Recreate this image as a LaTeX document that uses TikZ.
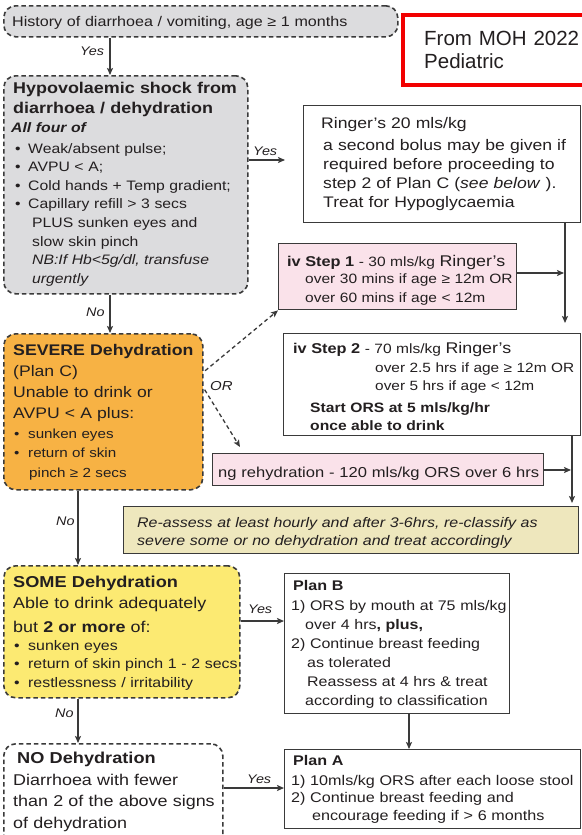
\documentclass[tikz,border=0pt]{standalone}
\usepackage{fontspec}
\setmainfont{Liberation Sans}[FakeStretch=1.15]
\newfontfamily\notefont{Liberation Sans}
\usetikzlibrary{arrows.meta}
\definecolor{ink}{HTML}{231F20}
\definecolor{edge}{HTML}{3A3A3A}
\definecolor{grayfill}{HTML}{DCDCDE}
\definecolor{orangefill}{HTML}{F7B244}
\definecolor{yellowfill}{HTML}{FCEA72}
\definecolor{pinkfill}{HTML}{FAE2EA}
\definecolor{khakifill}{HTML}{EEE7BD}
\definecolor{notered}{HTML}{F20000}
\newcommand{\fsz}[2]{\fontsize{#1}{#2}\selectfont}
\newcommand{\bul}{\makebox[13pt][l]{•}}
\newcommand{\bull}{\makebox[14pt][l]{•}}
\begin{document}
\begin{tikzpicture}[x=1pt,y=-1pt,
  box/.style={rectangle, inner sep=0pt, anchor=north west, line width=1.4pt, draw=edge},
  dbox/.style={box, rounded corners=12pt, dash pattern=on 4.5pt off 3pt, line width=1.6pt},
  txt/.style={inner sep=0pt, anchor=base west, align=left, text width=#1, text=ink},
  txt/.default=440pt,
  lbl/.style={inner sep=0pt, anchor=base west, text=ink, font=\fsz{12.5}{15}\itshape},
  arr/.style={draw=edge, line width=1.3pt, -{Stealth[length=7pt,width=6pt,inset=1.5pt]}},
  darr/.style={arr, dash pattern=on 4pt off 3pt}
]
\useasboundingbox (0,0) rectangle (581,835);
\fill[white] (0,0) rectangle (581,835);

% ---------- boxes ----------
\node[dbox, fill=grayfill, minimum width=394pt, minimum height=31pt] (hist) at (3,5) {};
\node[rectangle, draw=notered, line width=4pt, anchor=north west, minimum width=200pt, minimum height=70pt, inner sep=0pt] (note) at (401,13) {};
\node[dbox, fill=grayfill, minimum width=244pt, minimum height=218pt] (hypo) at (3,75) {};
\node[box, fill=white, minimum width=277pt, minimum height=117pt] (ringer) at (303,105) {};
\node[box, fill=pinkfill, minimum width=238pt, minimum height=66pt] (step1) at (278,243) {};
\node[dbox, fill=orangefill, minimum width=199pt, minimum height=156pt] (severe) at (3,333) {};
\node[box, fill=white, minimum width=297pt, minimum height=102pt] (step2) at (283,333) {};
\node[box, fill=pinkfill, minimum width=331pt, minimum height=32pt] (ng) at (212,453) {};
\node[box, fill=khakifill, minimum width=455pt, minimum height=47pt] (reass) at (123,506) {};
\node[dbox, fill=yellowfill, minimum width=236pt, minimum height=132pt] (some) at (3,565) {};
\node[box, fill=white, minimum width=225pt, minimum height=140pt] (planB) at (284,573) {};
\node[dbox, fill=white, minimum width=219pt, minimum height=110pt] (nodeh) at (3,743) {};
\node[box, fill=white, minimum width=296pt, minimum height=79pt] (planA) at (284,749) {};

% ---------- helper coordinates ----------
\coordinate (xA) at (110,0);
\coordinate (xB) at (78,0);
\coordinate (xC) at (565,0);
\coordinate (xD) at (572,0);
\coordinate (xE) at (409,0);
\coordinate (yHypo) at (0,160);
\coordinate (ySome) at (0,621);
\coordinate (yNo) at (0,788);
\coordinate (yS1) at (0,273);
\coordinate (yNg) at (0,470);
\coordinate (yesEnd) at (285,160);
\coordinate (orA) at (0,372);
\coordinate (orB) at (0,388);
\coordinate (orEndB) at (240,447);

% ---------- connectors ----------
\draw[arr] (hist.south -| xA) -- (hypo.north -| xA);
\draw[arr] (hypo.east |- yHypo) -- (yesEnd);
\draw[arr, shorten >=10pt] (ringer.south -| xC) -- (step2.north -| xC);
\draw[arr, shorten >=1pt] (step1.east |- yS1) -- (xC |- yS1);
\draw[arr] (hypo.south -| xA) -- (severe.north -| xA);
\draw[darr, shorten <=2pt] (severe.east |- orA) -- (step1.south west);
\draw[darr, shorten <=2pt] (severe.east |- orB) -- (orEndB);
\draw[arr, shorten >=3pt] (step2.south -| xD) -- (reass.north -| xD);
\draw[arr, shorten >=1pt] (ng.east |- yNg) -- (xD |- yNg);
\draw[arr] (severe.south -| xB) -- (some.north -| xB);
\draw[arr] (some.east |- ySome) -- (planB.west |- ySome);
\draw[arr] (some.south -| xB) -- (nodeh.north -| xB);
\draw[arr] (nodeh.east |- yNo) -- (planA.west |- yNo);
\draw[arr] (planB.south -| xE) -- (planA.north -| xE);

% ---------- labels ----------
\node[lbl] (yes1) at (80,55) {Yes};
\node[lbl] (yes2) at (253,155) {Yes};
\node[lbl] (no1) at (86,316) {No};
\node[lbl, font=\fsz{13}{15}\itshape] (orL) at (210,390) {OR};
\node[lbl] (no2) at (56,525) {No};
\node[lbl] (yes3) at (248,613) {Yes};
\node[lbl] (no3) at (55,717) {No};
\node[lbl] (yes4) at (247,783) {Yes};

% ---------- texts ----------
\node[txt, font=\fsz{14}{16}] (histT) at (12,26) {History of diarrhoea / vomiting, age ≥ 1 months};
\node[txt=200pt, font=\notefont\fsz{20.5}{23}] (noteT) at (424,45) {From MOH 2022\\Pediatric};

\node[txt, font=\fsz{15.6}{20}\bfseries] (hypoT) at (13,93) {Hypovolaemic shock from\\diarrhoea / dehydration};
\node[txt, font=\fsz{13.7}{18.6}] (hypoB) at (11,132) {\textbf{\textit{All four of}}\\[2.5pt]
\hspace*{4pt}\bul Weak/absent pulse;\\
\hspace*{4pt}\bul AVPU < A;\\
\hspace*{4pt}\bul Cold hands + Temp gradient;\\
\hspace*{4pt}\bul Capillary refill > 3 secs\\
\hspace*{21pt}PLUS sunken eyes and\\
\hspace*{21pt}slow skin pinch\\
\hspace*{21pt}\textit{NB:If Hb<5g/dl, transfuse}\\
\hspace*{21pt}\textit{urgently}};

\node[txt, font=\fsz{15.3}{19}] (ringT) at (321,128) {Ringer's 20 mls/kg};
\node[txt, font=\fsz{15.3}{19}] (ringB) at (323,150) {a second bolus may be given if\\required before proceeding to\\step 2 of Plan C (\textit{see below} ).\\Treat for Hypoglycaemia};

\node[txt, font=\fsz{13.5}{18.5}] (s1a) at (287,266) {{\fsz{14.2}{18.5}\bfseries iv Step 1} - 30 mls/kg {\fsz{15.5}{18.5}Ringer's}};
\node[txt, font=\fsz{13.5}{18.5}] (s1b) at (305,283.5) {over 30 mins if age ≥ 12m OR\\over 60 mins if age < 12m};

\node[txt, font=\fsz{15.4}{20}\bfseries] (sevT) at (13,355) {SEVERE Dehydration};
\node[txt, font=\fsz{15.3}{21}] (sevB) at (13,376) {(Plan C)\\Unable to drink or\\AVPU < A plus:};
\node[txt, font=\fsz{13.2}{19.5}] (sevL) at (14,438) {\bull sunken eyes\\\bull return of skin\\\hspace*{15pt}pinch ≥ 2 secs};

\node[txt, font=\fsz{13.5}{18.5}] (s2a) at (293,353) {{\fsz{14.2}{18.5}\bfseries iv Step 2} - 70 mls/kg {\fsz{15.5}{18.5}Ringer's}};
\node[txt, font=\fsz{13.4}{18.3}] (s2b) at (375,372) {over 2.5 hrs if age ≥ 12m OR\\over 5 hrs if age < 12m};
\node[txt, font=\fsz{13.6}{18.5}\bfseries] (s2c) at (310,412) {Start ORS at 5 mls/kg/hr\\once able to drink};

\node[txt, font=\fsz{14.4}{17}] (ngT) at (218,477) {ng rehydration - 120 mls/kg ORS over 6 hrs};

\node[txt, font=\fsz{13.9}{18}\itshape] (reassT) at (137,527) {Re-assess at least hourly and after 3-6hrs, re-classify as\\severe some or no dehydration and treat accordingly};

\node[txt, font=\fsz{15.8}{20}\bfseries] (someT) at (13,587) {SOME Dehydration};
\node[txt, font=\fsz{15.6}{23.5}] (someB) at (13,608.5) {Able to drink adequately\\but \textbf{2 or more} of:};
\node[txt, font=\fsz{13.85}{18.5}] (someL) at (14,650) {\bull sunken eyes\\\bull return of skin pinch 1 - 2 secs\\\bull restlessness / irritability};

\node[txt, font=\fsz{14}{18}\bfseries] (pbT) at (293,590) {Plan B};
\node[txt, font=\fsz{13.9}{19}] (pbB) at (291,610) {1) ORS by mouth at 75 mls/kg\\\hspace*{14pt}over 4 hrs\textbf{, plus,}\\2) Continue breast feeding\\\hspace*{16pt}as tolerated\\\hspace*{16pt}Reassess at 4 hrs \& treat\\\hspace*{14pt}according to classification};

\node[txt, font=\fsz{15.8}{20}\bfseries] (noT) at (17,763) {NO Dehydration};
\node[txt, font=\fsz{15.6}{21.5}] (noB) at (13,785) {Diarrhoea with fewer\\than 2 of the above signs\\of dehydration};

\node[txt, font=\fsz{14}{18}\bfseries] (paT) at (293,765) {Plan A};
\node[txt, font=\fsz{14.05}{17.5}] (paB) at (291,785) {1) 10mls/kg ORS after each loose stool\\2) Continue breast feeding and\\\hspace*{21pt}encourage feeding if > 6 months};
\end{tikzpicture}
\end{document}
